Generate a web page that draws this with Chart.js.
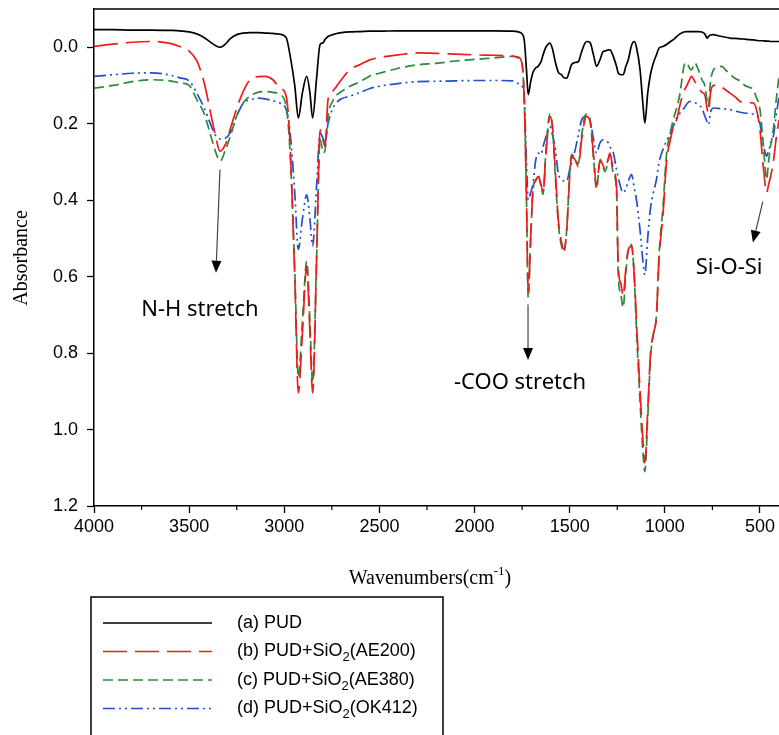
<!DOCTYPE html>
<html>
<head>
<meta charset="utf-8">
<title>FTIR spectra</title>
<script src="https://cdn.jsdelivr.net/npm/chart.js@4.4.0/dist/chart.umd.min.js"></script>
<style>
  html, body { margin: 0; padding: 0; background: #fff; }
  #wrap { width: 779px; height: 735px; position: relative; }
</style>
</head>
<body>
<div id="wrap"><canvas id="ftir"></canvas></div>
<script>
// ---- data ----
const wavenumbers = [
  4000, 3900, 3800, 3700, 3600, 3550, 3500, 3460, 3420, 3390, 3360, 3338, 3310, 3285, 3250, 3215,
  3180, 3140, 3100, 3060, 3023, 2990, 2970, 2945, 2926, 2905, 2882, 2865, 2851, 2830, 2812, 2795,
  2786, 2770, 2745, 2725, 2700, 2655, 2600, 2550, 2500, 2400, 2300, 2200, 2100, 2000, 1900, 1800,
  1770, 1750, 1738, 1727, 1718, 1705, 1692, 1680, 1666, 1650, 1640, 1625, 1604, 1590, 1575, 1560,
  1543, 1530, 1516, 1500, 1490, 1472, 1455, 1437, 1420, 1411, 1393, 1375, 1359, 1341, 1324, 1315,
  1297, 1289, 1271, 1254, 1245, 1230, 1219, 1205, 1192, 1175, 1160, 1149, 1130, 1115, 1105, 1090,
  1075, 1060, 1044, 1030, 1010, 991, 970, 950, 938, 920, 900, 886, 870, 860, 842, 823,
  805, 790, 778, 771, 760, 744, 720, 700, 680, 658, 630, 605, 580, 555, 535, 520,
  500, 485, 470, 465, 455, 445, 430, 415, 400
];

const pud = [
  -0.046, -0.046, -0.045, -0.045, -0.044, -0.043, -0.040, -0.035, -0.025, -0.014, -0.004, 0.000, -0.008, -0.022, -0.033, -0.037,
  -0.038, -0.038, -0.037, -0.036, -0.034, -0.025, 0.020, 0.100, 0.185, 0.120, 0.076, 0.120, 0.185, 0.080, -0.007, -0.012,
  -0.020, -0.028, -0.033, -0.036, -0.038, -0.040, -0.041, -0.042, -0.042, -0.043, -0.043, -0.043, -0.043, -0.043, -0.043, -0.042,
  -0.040, -0.035, -0.015, 0.060, 0.124, 0.090, 0.065, 0.055, 0.050, 0.037, 0.020, 0.000, -0.011, 0.005, 0.040, 0.065,
  0.072, 0.080, 0.081, 0.060, 0.045, 0.040, 0.038, 0.011, -0.010, -0.015, -0.012, 0.020, 0.050, 0.033, 0.011, 0.010,
  0.007, 0.007, 0.024, 0.050, 0.067, 0.072, 0.072, 0.050, 0.033, -0.005, -0.015, 0.000, 0.060, 0.150, 0.198, 0.120,
  0.070, 0.041, 0.020, 0.002, -0.002, -0.007, -0.015, -0.022, -0.028, -0.035, -0.040, -0.041, -0.041, -0.041, -0.041, -0.041,
  -0.040, -0.035, -0.024, -0.028, -0.032, -0.033, -0.030, -0.028, -0.026, -0.024, -0.023, -0.022, -0.021, -0.020, -0.019, -0.018,
  -0.017, -0.017, -0.016, -0.016, -0.016, -0.015, -0.015, -0.015, -0.015
];

const pudAe200 = [
  -0.002, -0.008, -0.013, -0.015, -0.010, -0.002, 0.010, 0.035, 0.095, 0.165, 0.235, 0.272, 0.255, 0.216, 0.160, 0.115,
  0.085, 0.077, 0.076, 0.085, 0.107, 0.128, 0.250, 0.600, 0.904, 0.750, 0.573, 0.750, 0.904, 0.550, 0.216, 0.245,
  0.259, 0.137, 0.115, 0.102, 0.085, 0.059, 0.045, 0.033, 0.027, 0.020, 0.015, 0.016, 0.018, 0.020, 0.021, 0.023,
  0.026, 0.045, 0.150, 0.400, 0.640, 0.500, 0.364, 0.350, 0.338, 0.360, 0.381, 0.280, 0.181, 0.210, 0.330, 0.450,
  0.510, 0.529, 0.480, 0.340, 0.285, 0.294, 0.312, 0.240, 0.190, 0.181, 0.194, 0.280, 0.364, 0.294, 0.310, 0.320,
  0.290, 0.277, 0.320, 0.364, 0.573, 0.620, 0.651, 0.580, 0.530, 0.520, 0.600, 0.720, 0.900, 1.030, 1.087, 0.950,
  0.800, 0.750, 0.704, 0.550, 0.440, 0.300, 0.240, 0.200, 0.190, 0.150, 0.115, 0.102, 0.085, 0.076, 0.090, 0.107,
  0.118, 0.125, 0.160, 0.172, 0.120, 0.100, 0.100, 0.105, 0.112, 0.120, 0.130, 0.142, 0.144, 0.145, 0.146, 0.160,
  0.216, 0.300, 0.370, 0.381, 0.360, 0.340, 0.300, 0.240, 0.190
];

const pudAe380 = [
  0.107, 0.100, 0.090, 0.085, 0.088, 0.093, 0.100, 0.137, 0.175, 0.225, 0.275, 0.298, 0.270, 0.235, 0.180, 0.145,
  0.128, 0.118, 0.116, 0.118, 0.124, 0.155, 0.270, 0.580, 0.864, 0.720, 0.560, 0.720, 0.877, 0.550, 0.240, 0.276,
  0.270, 0.180, 0.140, 0.125, 0.116, 0.102, 0.090, 0.075, 0.068, 0.055, 0.046, 0.042, 0.036, 0.032, 0.028, 0.024,
  0.028, 0.045, 0.150, 0.400, 0.655, 0.500, 0.370, 0.350, 0.335, 0.365, 0.385, 0.270, 0.175, 0.210, 0.340, 0.460,
  0.520, 0.535, 0.480, 0.330, 0.280, 0.290, 0.305, 0.230, 0.180, 0.175, 0.190, 0.290, 0.370, 0.300, 0.315, 0.325,
  0.295, 0.280, 0.330, 0.375, 0.590, 0.650, 0.681, 0.590, 0.530, 0.516, 0.610, 0.740, 0.930, 1.060, 1.110, 0.970,
  0.810, 0.750, 0.700, 0.540, 0.420, 0.280, 0.220, 0.180, 0.160, 0.120, 0.050, 0.040, 0.055, 0.059, 0.041, 0.060,
  0.085, 0.100, 0.140, 0.155, 0.090, 0.059, 0.052, 0.050, 0.060, 0.070, 0.082, 0.088, 0.100, 0.105, 0.111, 0.130,
  0.163, 0.240, 0.330, 0.346, 0.300, 0.260, 0.216, 0.140, 0.076
];

const pudOk412 = [
  0.076, 0.072, 0.068, 0.067, 0.073, 0.080, 0.088, 0.120, 0.160, 0.198, 0.232, 0.240, 0.238, 0.224, 0.180, 0.146,
  0.138, 0.133, 0.135, 0.140, 0.146, 0.163, 0.220, 0.380, 0.529, 0.450, 0.386, 0.450, 0.520, 0.360, 0.224, 0.240,
  0.250, 0.200, 0.160, 0.145, 0.135, 0.128, 0.118, 0.108, 0.102, 0.095, 0.090, 0.089, 0.088, 0.087, 0.087, 0.088,
  0.095, 0.102, 0.140, 0.300, 0.399, 0.380, 0.355, 0.300, 0.277, 0.281, 0.260, 0.235, 0.207, 0.230, 0.268, 0.330,
  0.346, 0.350, 0.351, 0.320, 0.303, 0.270, 0.230, 0.190, 0.181, 0.180, 0.190, 0.240, 0.277, 0.250, 0.242, 0.245,
  0.250, 0.260, 0.275, 0.320, 0.340, 0.370, 0.381, 0.370, 0.350, 0.333, 0.370, 0.399, 0.480, 0.560, 0.595, 0.500,
  0.420, 0.380, 0.346, 0.300, 0.268, 0.245, 0.224, 0.200, 0.185, 0.172, 0.160, 0.150, 0.142, 0.142, 0.145, 0.150,
  0.160, 0.180, 0.195, 0.203, 0.170, 0.159, 0.160, 0.161, 0.162, 0.163, 0.167, 0.170, 0.172, 0.174, 0.175, 0.176,
  0.200, 0.250, 0.280, 0.285, 0.270, 0.255, 0.233, 0.180, 0.129
];

const seriesLabels = [
  ['(a) PUD'],
  ['(b) PUD+SiO', '2', '(AE200)'],
  ['(c) PUD+SiO', '2', '(AE380)'],
  ['(d) PUD+SiO', '2', '(OK412)']
];

const xMajorTicks = [4000, 3500, 3000, 2500, 2000, 1500, 1000, 500];
const xMinorTicks = [3750, 3250, 2750, 2250, 1750, 1250, 750];
const yTicks = [0, 0.2, 0.4, 0.6, 0.8, 1.0, 1.2];

// peak annotations: arrow from -> to, text anchor (data coordinates)
const annotations = [
  { text: 'N-H stretch', from: [3338, 0.32], to: [3359, 0.59], at: [3443, 0.686], align: 'center' },
  { text: '-COO stretch', from: [1719, 0.673], to: [1719, 0.818], at: [1761, 0.877], align: 'center' },
  { text: 'Si-O-Si', from: [485, 0.404], to: [537, 0.511], at: [838, 0.576], align: 'left' }
];

// ---- helpers ----
const toPoints = values => wavenumbers.map((w, i) => ({ x: w, y: values[i] }));

const AXIS_FONT = 'Liberation Sans';
const SERIF_FONT = 'Liberation Serif';

const seriesStyles = [
  { color: '#000000', dash: [], width: 1.7 },
  { color: '#f01c1c', dash: [24, 8], width: 1.7 },
  { color: '#2b8a3c', dash: [10, 5], width: 1.7 },
  { color: '#2250cc', dash: [12, 4, 2, 4, 2, 4], width: 1.7 }
];

const seriesData = [pud, pudAe200, pudAe380, pudOk412];

/**
 * Extra drawing: top frame line, minor x ticks, axis titles,
 * peak annotations and the boxed legend below the plot
 */
const decorations = {
  id: 'decorations',
  afterDraw(chart) {
    const { ctx, chartArea, scales } = chart;
    const xs = scales.x;
    const ys = scales.y;

    ctx.save();
    ctx.strokeStyle = '#000';
    ctx.fillStyle = '#000';

    // top frame line
    ctx.lineWidth = 1.5;
    ctx.beginPath();
    ctx.moveTo(chartArea.left, chartArea.top);
    ctx.lineTo(chartArea.right, chartArea.top);
    ctx.stroke();

    // minor ticks on the x axis
    ctx.lineWidth = 1.2;
    xMinorTicks.forEach(v => {
      const px = xs.getPixelForValue(v);
      ctx.beginPath();
      ctx.moveTo(px, chartArea.bottom);
      ctx.lineTo(px, chartArea.bottom + 4);
      ctx.stroke();
    });

    // axis titles
    ctx.textBaseline = 'alphabetic';
    const main = 'Wavenumbers(cm';
    ctx.font = `20px ${SERIF_FONT}`;
    const wMain = ctx.measureText(main).width;
    ctx.font = `13px ${SERIF_FONT}`;
    const wSup = ctx.measureText('-1').width;
    ctx.font = `20px ${SERIF_FONT}`;
    const wEnd = ctx.measureText(')').width;
    let tx = 430 - (wMain + wSup + wEnd) / 2;
    const ty = 584;
    ctx.textAlign = 'left';
    ctx.fillText(main, tx, ty);
    tx += wMain;
    ctx.font = `13px ${SERIF_FONT}`;
    ctx.fillText('-1', tx, ty - 9);
    tx += wSup;
    ctx.font = `20px ${SERIF_FONT}`;
    ctx.fillText(')', tx, ty);

    ctx.save();
    ctx.translate(22, 258);
    ctx.rotate(-Math.PI / 2);
    ctx.textAlign = 'center';
    ctx.textBaseline = 'middle';
    ctx.fillText('Absorbance', 0, 0);
    ctx.restore();

    // peak annotations
    annotations.forEach(a => {
      const x1 = xs.getPixelForValue(a.from[0]);
      const y1 = ys.getPixelForValue(a.from[1]);
      const x2 = xs.getPixelForValue(a.to[0]);
      const y2 = ys.getPixelForValue(a.to[1]);
      const ang = Math.atan2(y2 - y1, x2 - x1);
      const head = 12;
      const bx = x2 - head * Math.cos(ang);
      const by = y2 - head * Math.sin(ang);

      ctx.strokeStyle = '#444';
      ctx.lineWidth = 1.2;
      ctx.beginPath();
      ctx.moveTo(x1, y1);
      ctx.lineTo(bx, by);
      ctx.stroke();

      ctx.fillStyle = '#000';
      ctx.beginPath();
      ctx.moveTo(x2, y2);
      ctx.lineTo(bx + 5 * Math.sin(ang), by - 5 * Math.cos(ang));
      ctx.lineTo(bx - 5 * Math.sin(ang), by + 5 * Math.cos(ang));
      ctx.closePath();
      ctx.fill();

      ctx.font = '22px "Noto Sans"';
      ctx.textAlign = a.align;
      ctx.textBaseline = 'middle';
      ctx.fillText(a.text, xs.getPixelForValue(a.at[0]), ys.getPixelForValue(a.at[1]));
    });

    // legend box
    ctx.strokeStyle = '#000';
    ctx.lineWidth = 1.5;
    ctx.strokeRect(91, 597, 352, 145);

    chart.data.datasets.forEach((ds, i) => {
      const rowY = 623 + i * 28.5;
      ctx.save();
      ctx.strokeStyle = ds.borderColor;
      ctx.lineWidth = ds.borderWidth;
      ctx.setLineDash(ds.borderDash);
      ctx.beginPath();
      ctx.moveTo(103, rowY);
      ctx.lineTo(212, rowY);
      ctx.stroke();
      ctx.restore();

      const parts = seriesLabels[i];
      ctx.fillStyle = '#000';
      ctx.textAlign = 'left';
      ctx.textBaseline = 'middle';
      let lx = 237;
      parts.forEach((p, k) => {
        const sub = k === 1;
        ctx.font = sub ? `13px ${AXIS_FONT}` : `18px ${AXIS_FONT}`;
        ctx.fillText(p, lx, rowY + (sub ? 6 : 0));
        lx += ctx.measureText(p).width;
      });
    });

    ctx.restore();
  }
};

const datasets = seriesData.map((values, i) => ({
  label: seriesLabels[i].join(''),
  data: toPoints(values),
  borderColor: seriesStyles[i].color,
  borderDash: seriesStyles[i].dash,
  borderWidth: seriesStyles[i].width,
  pointRadius: 0,
  fill: false,
  cubicInterpolationMode: 'monotone'
}));

new Chart(document.getElementById('ftir').getContext('2d'), {
  type: 'line',
  data: { datasets },
  options: {
    responsive: true,
    maintainAspectRatio: false,
    animation: false,
    layout: { padding: { top: 9, left: 0, right: 0, bottom: 0 } },
    plugins: {
      legend: { display: false },
      tooltip: { enabled: false }
    },
    scales: {
      x: {
        type: 'linear',
        reverse: true,
        min: 400,
        max: 4000,
        afterBuildTicks: scale => { scale.ticks = xMajorTicks.slice().reverse().map(v => ({ value: v })); },
        afterFit: scale => { scale.height = 229; },
        grid: { drawOnChartArea: false, drawTicks: true, tickLength: 7, tickWidth: 1.3, tickColor: '#000' },
        border: { display: true, color: '#000', width: 1.5 },
        ticks: {
          color: '#000',
          padding: 3,
          maxRotation: 0,
          autoSkip: false,
          font: { family: AXIS_FONT, size: 18 },
          callback: v => String(v)
        }
      },
      y: {
        type: 'linear',
        reverse: true,
        min: -0.1,
        max: 1.2,
        afterBuildTicks: scale => { scale.ticks = yTicks.map(v => ({ value: v })); },
        afterFit: scale => {
          scale.width = 94;
          scale.paddingTop = 0;
          scale.paddingBottom = 0;
        },
        grid: { drawOnChartArea: false, drawTicks: true, tickLength: 7, tickWidth: 1.3, tickColor: '#000' },
        border: { display: true, color: '#000', width: 1.5 },
        ticks: {
          color: '#000',
          padding: 9,
          autoSkip: false,
          font: { family: AXIS_FONT, size: 18 },
          callback: v => v.toFixed(1)
        }
      }
    }
  },
  plugins: [decorations]
});
</script>
</body>
</html>
